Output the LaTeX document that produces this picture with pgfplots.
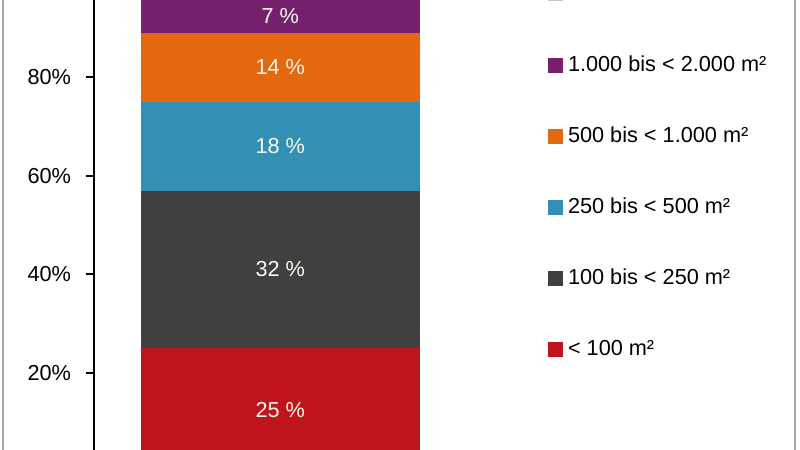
\documentclass[border=0pt]{standalone}
\usepackage{pgfplots}
\pgfplotsset{compat=1.18}
\usepackage{fontspec}
\setmainfont{Liberation Sans}
\definecolor{cRed}{RGB}{192,20,28}
\definecolor{cDark}{RGB}{64,64,64}
\definecolor{cBlue}{RGB}{50,144,180}
\definecolor{cOrange}{RGB}{228,104,14}
\definecolor{cPurple}{RGB}{117,33,110}
\definecolor{cTop}{RGB}{200,200,190}
\definecolor{cLabel}{RGB}{252,246,236}
\begin{document}
\begin{tikzpicture}
\useasboundingbox (0,0) rectangle (400pt,225pt);
\clip (0,0) rectangle (400pt,225pt);
\fill[white] (0,0) rectangle (400pt,225pt);
\draw[black!35, line width=0.8pt] (1.65pt,-20pt) rectangle (397.5pt,260pt);
\begin{axis}[
  at={(47pt,-10.6pt)}, anchor=south west,
  scale only axis, width=186.3pt, height=246.2pt,
  xmin=0, xmax=1, ymin=0, ymax=100,
  ybar stacked, bar width=139.65pt,
  axis x line=none, axis y line*=left,
  y axis line style={line width=1.25pt, black},
  ytick={20,40,60,80},
  yticklabel={\pgfmathprintnumber{\tick}\%},
  tick align=outside, major tick length=3.75pt,
  ytick style={line width=1pt, black},
  /pgf/number format/assume math mode=true,
  tick label style={font=\fontsize{10.85}{13}\selectfont, text=black},
  yticklabel style={xshift=-4.2pt},
  every axis plot/.append style={draw=none},
  visualization depends on=rawy \as \rawy,
  nodes near coords={\pgfmathprintnumber{\rawy}~\%},
  every node near coord/.append style={anchor=center, text=cLabel, font=\fontsize{10.85}{13}\selectfont},
  legend image code/.code={\fill[#1] (0pt,-3.75pt) rectangle (7.5pt,3.75pt);},
  reverse legend,
  legend cell align=left,
  legend style={draw=none, fill=none, at={(1.2185,0.2262)}, anchor=south west, inner sep=0pt, outer sep=0pt, row sep=25.6pt, column sep=2.5pt, font=\fontsize{10.85}{13}\selectfont, nodes={inner sep=0pt, text height=8pt, text depth=2pt}},
]
\addplot[fill=cRed] coordinates {(0.5,25)};
\addlegendentry{< 100 m²}
\addplot[fill=cDark] coordinates {(0.5,32)};
\addlegendentry{100 bis < 250 m²}
\addplot[fill=cBlue] coordinates {(0.5,18)};
\addlegendentry{250 bis < 500 m²}
\addplot[fill=cOrange] coordinates {(0.5,14)};
\addlegendentry{500 bis < 1.000 m²}
\addplot[fill=cPurple] coordinates {(0.5,7)};
\addlegendentry{1.000 bis < 2.000 m²}
\addplot[fill=cTop] coordinates {(0.5,4)};
\addlegendentry{≥ 2.000 m²}
\end{axis}
\end{tikzpicture}
\end{document}
